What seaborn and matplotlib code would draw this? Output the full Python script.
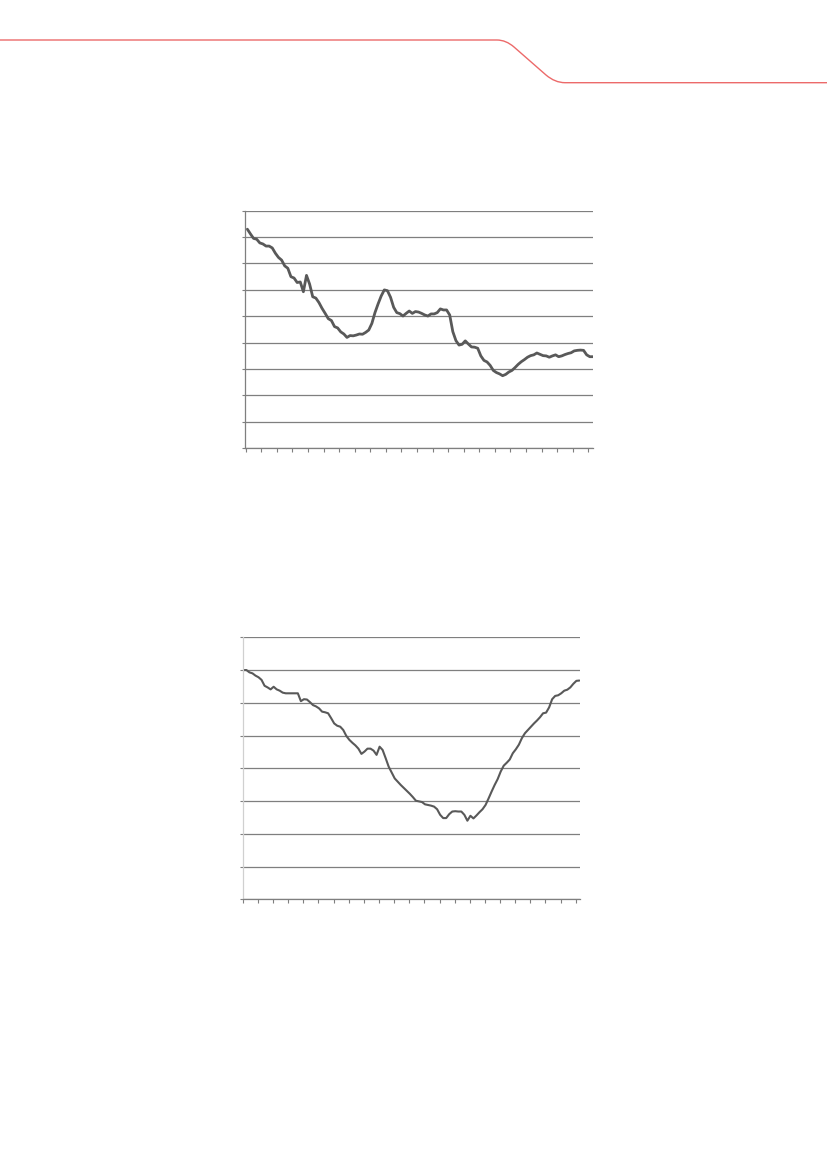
import numpy as np
import pandas as pd
import matplotlib
matplotlib.use("Agg")
import matplotlib.pyplot as plt
from matplotlib.path import Path
from matplotlib.patches import PathPatch
import seaborn as sns

# ---------------- data (arbitrary units) ----------------
series_top = [
    83.0, 81.2, 79.5, 79.2, 77.8, 77.4, 76.6, 76.6, 75.9, 73.9,
    72.3, 71.3, 69.1, 68.2, 65.0, 64.5, 62.8, 63.0, 59.3, 65.5,
    62.2, 57.4, 56.9, 55.2, 53.0, 51.1, 49.1, 48.4, 46.1, 45.6,
    44.1, 43.3, 42.0, 42.7, 42.6, 42.9, 43.3, 43.2, 43.9, 44.8,
    47.3, 51.4, 54.7, 57.7, 60.0, 59.7, 57.2, 53.4, 51.4, 51.0,
    50.1, 51.1, 52.0, 51.1, 51.8, 51.6, 51.1, 50.5, 50.1, 50.9,
    50.9, 51.4, 52.8, 52.4, 52.4, 50.5, 44.2, 40.8, 39.1, 39.4,
    40.7, 39.5, 38.4, 38.3, 37.9, 35.0, 33.3, 32.7, 31.4, 29.5,
    28.7, 28.2, 27.5, 28.0, 28.9, 29.5, 30.6, 31.8, 32.8, 33.6,
    34.5, 35.1, 35.4, 36.1, 35.6, 35.1, 35.0, 34.5, 35.0, 35.4,
    34.7, 35.0, 35.5, 35.9, 36.2, 36.9, 37.1, 37.2, 37.1, 35.4,
    34.7, 34.7,
]

series_bottom = [
    70.0, 70.0, 69.3, 69.0, 68.3, 67.8, 67.0, 65.2, 64.7, 64.1,
    64.9, 64.1, 63.7, 63.1, 62.9, 62.9, 62.9, 62.9, 62.9, 60.5,
    61.1, 61.0, 60.2, 59.3, 58.9, 58.3, 57.3, 57.1, 56.8, 55.3,
    53.7, 53.0, 52.7, 51.7, 49.9, 48.7, 47.8, 47.0, 46.0, 44.4,
    45.1, 46.0, 46.0, 45.4, 44.1, 46.6, 45.6, 43.1, 40.5, 38.7,
    36.9, 35.9, 34.9, 34.0, 33.1, 32.2, 31.2, 30.1, 29.9, 29.7,
    29.0, 28.8, 28.6, 28.3, 27.5, 25.8, 24.8, 24.8, 26.0, 26.8,
    26.9, 26.8, 26.8, 25.8, 24.0, 25.5, 24.7, 25.6, 26.6, 27.5,
    28.8, 30.8, 32.9, 34.9, 36.7, 39.0, 40.8, 41.7, 42.7, 44.6,
    45.8, 47.2, 49.2, 50.7, 51.7, 52.7, 53.7, 54.6, 55.6, 56.8,
    57.0, 58.6, 61.1, 62.1, 62.3, 62.9, 63.7, 64.0, 64.7, 65.8,
    66.7, 66.8,
]

top_gridlines = [0, 10, 20, 30, 40, 50, 60, 70, 80, 90]
bottom_gridlines = [0, 10, 20, 30, 40, 50, 60, 70, 80]

df_top = pd.DataFrame({"period": np.arange(len(series_top)), "value": series_top})
df_bot = pd.DataFrame({"period": np.arange(len(series_bottom)), "value": series_bottom})

# ---------------- figure ----------------
sns.set_style("white")
plt.rcParams["font.family"] = ["DejaVu Sans"]

W, H = 827, 1170
fig = plt.figure(figsize=(W / 100, H / 100), dpi=100)
fig.patch.set_facecolor("white")

GRID = "#7f7f7f"
LINE = "#595959"


def px_axes(left, top, right, bottom):
    return fig.add_axes([left / W, 1 - bottom / H, (right - left) / W, (bottom - top) / H])


def style_axes(ax, yticks, xtick_pos, spine_color, xlim, ylim):
    ax.set_xlim(*xlim)
    ax.set_ylim(*ylim)
    ax.set_yticks(yticks)
    ax.set_xticks(xtick_pos)
    ax.grid(axis="y", color=GRID, linewidth=0.9)
    ax.grid(axis="x", visible=False)
    ax.set_axisbelow(True)
    for s in ["top", "right"]:
        ax.spines[s].set_visible(False)
    ax.spines["bottom"].set_visible(True)
    ax.spines["bottom"].set_color(GRID)
    ax.spines["bottom"].set_linewidth(0.9)
    ax.spines["left"].set_color(spine_color)
    ax.spines["left"].set_linewidth(0.9)
    ax.tick_params(axis="x", bottom=True, direction="out", length=3, width=0.8,
                   color=GRID, labelbottom=False)
    ax.tick_params(axis="y", left=True, direction="out", length=2, width=0.8,
                   color=GRID, labelleft=False)
    ax.set_xlabel("")
    ax.set_ylabel("")
    ax.set_facecolor("white")


# chart 1
ax1 = px_axes(244.7, 210.7, 592.9, 448.3)
sns.lineplot(data=df_top, x="period", y="value", ax=ax1, color=LINE, linewidth=2.0)
style_axes(ax1, top_gridlines, [-0.5 + 5 * j for j in range(23)], GRID,
           (-0.85, len(series_top) - 1), (0, 90))

# chart 2
ax2 = px_axes(242.7, 637.3, 580.0, 899.3)
sns.lineplot(data=df_bot, x="period", y="value", ax=ax2, color=LINE, linewidth=1.5)
style_axes(ax2, bottom_gridlines, [-0.2 + 5 * j for j in range(23)], "#d0d0d0",
           (-0.22, 111.2), (0, 80))

# ---------------- header decoration (red rule with rounded step) ----------------
def fx(x):
    return x / W


def fy(y):
    return 1 - y / H


verts = [
    (fx(0), fy(40)), (fx(497), fy(40)),
    (fx(506), fy(40)), (fx(514), fy(47)),
    (fx(546), fy(75)),
    (fx(555), fy(82.7)), (fx(565), fy(82.7)),
    (fx(827), fy(82.7)),
]
codes = [Path.MOVETO, Path.LINETO, Path.CURVE3, Path.CURVE3, Path.LINETO,
         Path.CURVE3, Path.CURVE3, Path.LINETO]
patch = PathPatch(Path(verts, codes), transform=fig.transFigure, facecolor="none",
                  edgecolor="#ec6a6a", linewidth=1.0)
fig.patches.append(patch)

fig.savefig("out.png", dpi=100, facecolor="white")
